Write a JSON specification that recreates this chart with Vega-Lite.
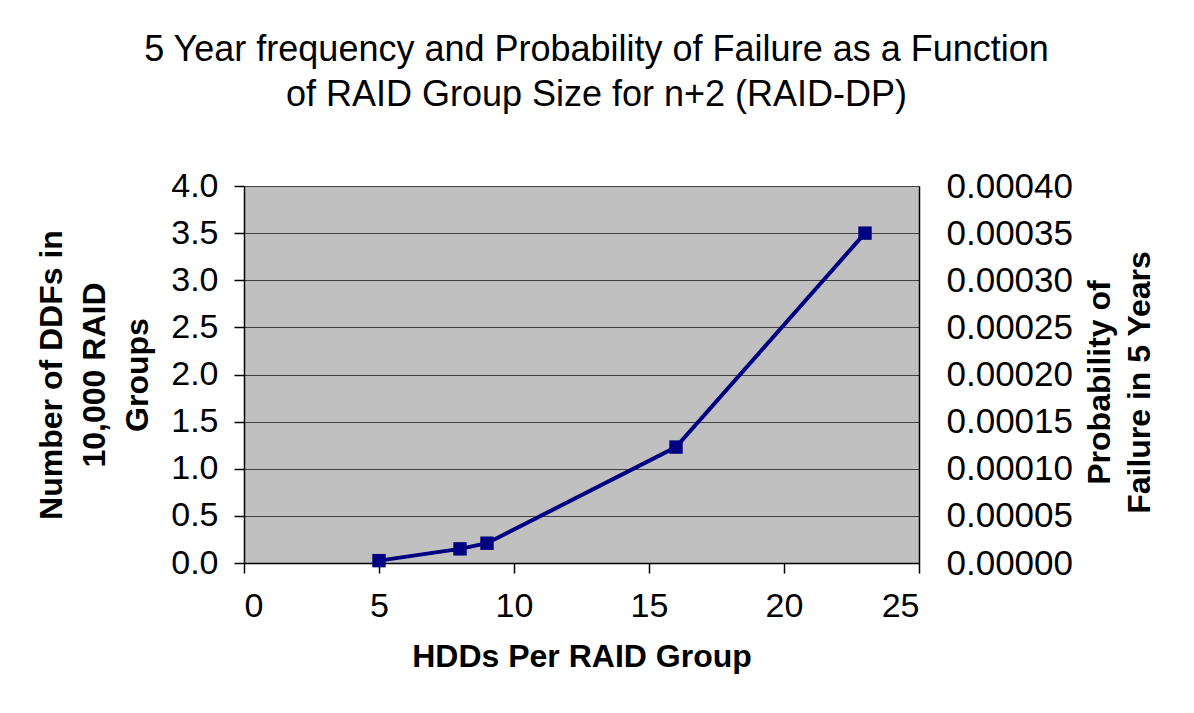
{
  "$schema": "https://vega.github.io/schema/vega-lite/v6.json",
  "width": 675,
  "height": 377,
  "autosize": {"type": "none"},
  "padding": {"left": 244, "top": 186, "right": 275, "bottom": 150},
  "background": "white",
  "config": {
    "font": "Liberation Sans",
    "view": {"fill": "#C0C0C0", "stroke": "#808080", "strokeWidth": 1}
  },
  "title": {
    "text": ["5 Year frequency and Probability of Failure as a Function", "of RAID Group Size for n+2 (RAID-DP)"],
    "font": "Liberation Sans",
    "fontSize": 36,
    "fontWeight": "normal",
    "lineHeight": 45,
    "anchor": "middle",
    "dx": 15,
    "offset": 55,
    "color": "black"
  },
  "data": {
    "values": [
      {"hdds": 5, "ddfs": 0.025, "prob": 0.0000025},
      {"hdds": 8, "ddfs": 0.15, "prob": 0.000015},
      {"hdds": 9, "ddfs": 0.21, "prob": 0.000021},
      {"hdds": 16, "ddfs": 1.23, "prob": 0.000123},
      {"hdds": 23, "ddfs": 3.5, "prob": 0.00035}
    ]
  },
  "encoding": {
    "x": {
      "field": "hdds",
      "type": "quantitative",
      "scale": {"domain": [0, 25], "nice": false},
      "axis": {
        "title": "HDDs Per RAID Group",
        "values": [0, 5, 10, 15, 20, 25],
        "grid": false,
        "domainColor": "black",
        "domainWidth": 1.5,
        "tickColor": "black",
        "tickSize": 10,
        "tickWidth": 1.5,
        "labelFontSize": 34,
        "labelColor": "black",
        "labelPadding": 16,
        "labelFont": "Liberation Sans",
        "titleFont": "Liberation Sans",
        "titleFontSize": 32,
        "titleFontWeight": "bold",
        "titleColor": "black",
        "titlePadding": 18
      }
    }
  },
  "layer": [
    {
      "mark": {"type": "line", "color": "#000080", "strokeWidth": 4, "point": {"shape": "square", "size": 180, "filled": true, "color": "#000080", "opacity": 1}},
      "encoding": {
        "y": {
          "field": "ddfs",
          "type": "quantitative",
          "scale": {"domain": [0, 4], "nice": false},
          "axis": {
            "title": ["Number of DDFs in", "10,000 RAID", "Groups"],
            "values": [0, 0.5, 1, 1.5, 2, 2.5, 3, 3.5, 4],
            "format": ".1f",
            "grid": true,
            "gridColor": "#404040",
            "gridWidth": 1,
            "domainColor": "black",
            "domainWidth": 1.5,
            "tickColor": "black",
            "tickSize": 10,
            "tickWidth": 1.5,
            "labelFontSize": 34,
            "labelColor": "black",
            "labelPadding": 16,
            "labelFont": "Liberation Sans",
            "titleFont": "Liberation Sans",
            "titleFontSize": 32,
            "titleFontWeight": "bold",
            "titleColor": "black",
            "titleLineHeight": 43,
            "titlePadding": 16
          }
        }
      }
    },
    {
      "mark": {"type": "point", "opacity": 0},
      "encoding": {
        "y": {
          "field": "prob",
          "type": "quantitative",
          "scale": {"domain": [0, 0.0004], "nice": false},
          "axis": {
            "orient": "right",
            "title": ["Probability of", "Failure in 5 Years"],
            "titleAngle": 270,
            "titleY": 196,
            "values": [0, 0.00005, 0.0001, 0.00015, 0.0002, 0.00025, 0.0003, 0.00035, 0.0004],
            "format": ".5f",
            "grid": false,
            "ticks": false,
            "domainColor": "black",
            "domainWidth": 1.5,
            "labelFontSize": 35,
            "labelColor": "black",
            "labelPadding": 27,
            "labelFont": "Liberation Sans",
            "titleFont": "Liberation Sans",
            "titleFontSize": 32,
            "titleFontWeight": "bold",
            "titleColor": "black",
            "titleLineHeight": 40,
            "titlePadding": 4
          }
        }
      }
    }
  ],
  "resolve": {"scale": {"y": "independent"}}
}
